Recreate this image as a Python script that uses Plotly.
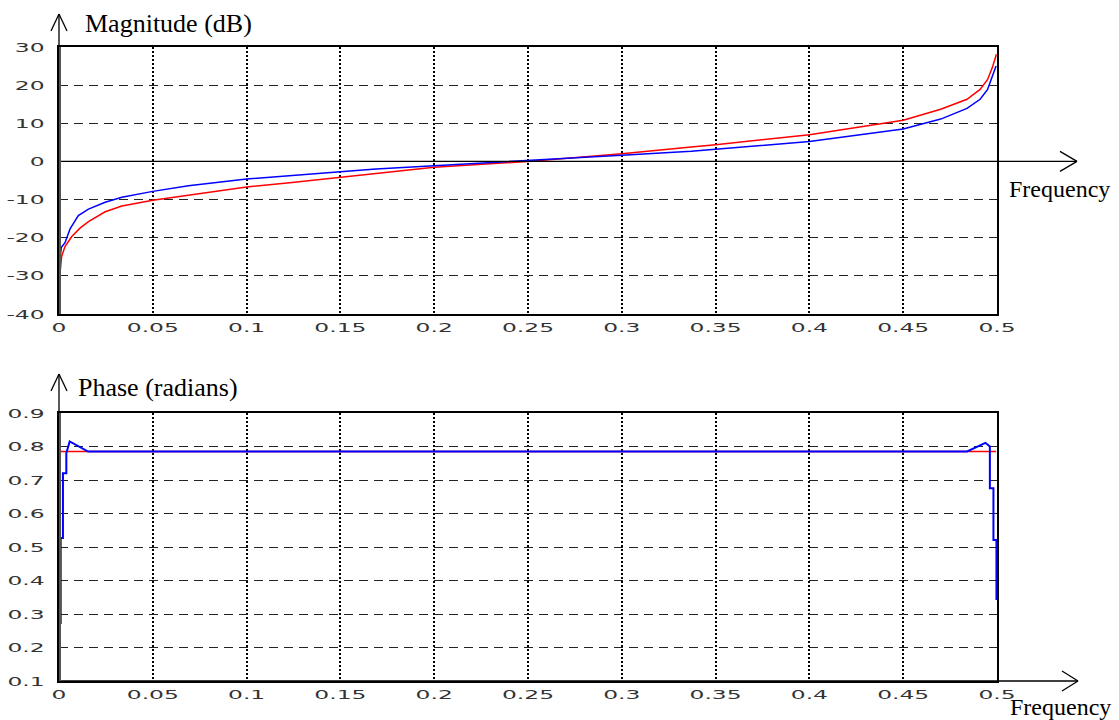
import plotly.graph_objects as go

# ---------------- data ----------------
mag_blue_f = [0.0005, 0.0012, 0.0032, 0.0059, 0.0103, 0.0157, 0.0246, 0.0335, 0.05, 0.069,
              0.1, 0.123, 0.15, 0.169, 0.2, 0.25, 0.3, 0.337, 0.35, 0.4, 0.45, 0.47,
              0.484, 0.491, 0.495, 0.4975, 0.4995]
mag_blue_db = [-25.8, -22.6, -21.3, -17.7, -14.2, -12.5, -10.7, -9.4, -7.85, -6.4,
               -4.6, -3.8, -2.7, -2.0, -1.15, 0.1, 1.65, 2.7, 3.2, 5.2, 8.5, 11.1,
               13.9, 16.3, 18.9, 22.4, 25.0]

mag_red_f = [0.0003, 0.0014, 0.0032, 0.0068, 0.0112, 0.0157, 0.0246, 0.0335, 0.05, 0.069,
             0.1, 0.123, 0.15, 0.169, 0.2, 0.25, 0.3, 0.337, 0.35, 0.4, 0.45, 0.47,
             0.484, 0.491, 0.495, 0.4975, 0.4997]
mag_red_db = [-30.6, -24.9, -22.3, -19.7, -17.5, -15.8, -13.2, -11.7, -10.2, -8.9,
              -6.7, -5.6, -4.2, -3.3, -1.5, 0.0, 2.0, 3.8, 4.4, 7.0, 10.8, 13.7,
              16.3, 18.9, 21.5, 24.6, 28.1]

ph_red_f = [0.0, 0.25, 0.4995]
ph_red = [0.785, 0.785, 0.785]

ph_blue_f = [0.0009, 0.0009, 0.0021, 0.0021, 0.0039, 0.0039, 0.0057, 0.0155, 0.1, 0.25,
             0.4, 0.4841, 0.4938, 0.4962, 0.4962, 0.4981, 0.4981, 0.4997, 0.4997]
ph_blue = [0.27, 0.527, 0.527, 0.72, 0.72, 0.78, 0.815, 0.785, 0.785, 0.785,
           0.785, 0.785, 0.811, 0.80, 0.675, 0.675, 0.521, 0.521, 0.342]

x_ticks = [0, 0.05, 0.1, 0.15, 0.2, 0.25, 0.3, 0.35, 0.4, 0.45, 0.5]
x_labels = ["0", "0.05", "0.1", "0.15", "0.2", "0.25", "0.3", "0.35", "0.4", "0.45", "0.5"]
mag_ticks = [-40, -30, -20, -10, 0, 10, 20, 30]
mag_labels = ["-40", "-30", "-20", "-10", "0", "10", "20", "30"]
ph_ticks = [0.1, 0.2, 0.3, 0.4, 0.5, 0.6, 0.7, 0.8, 0.9]
ph_labels = ["0.1", "0.2", "0.3", "0.4", "0.5", "0.6", "0.7", "0.8", "0.9"]

# ---------------- layout geometry (pixels) ----------------
W, H = 1119, 720
XL, XR = 59, 997
YT1, YB1 = 47, 314
YT2, YB2 = 413, 681


def px(x):
    return x / W


def py(y):
    return 1 - y / H


fig = go.Figure()

fig.add_trace(go.Scatter(x=mag_red_f, y=mag_red_db, mode="lines",
                         line=dict(color="#ff0000", width=1.5), xaxis="x", yaxis="y",
                         showlegend=False, hoverinfo="skip"))
fig.add_trace(go.Scatter(x=mag_blue_f, y=mag_blue_db, mode="lines",
                         line=dict(color="#0000ff", width=1.5), xaxis="x", yaxis="y",
                         showlegend=False, hoverinfo="skip"))
fig.add_trace(go.Scatter(x=ph_red_f, y=ph_red, mode="lines",
                         line=dict(color="#ff0000", width=1.5), xaxis="x2", yaxis="y2",
                         showlegend=False, hoverinfo="skip"))
fig.add_trace(go.Scatter(x=ph_blue_f, y=ph_blue, mode="lines",
                         line=dict(color="#0000ff", width=2), xaxis="x2", yaxis="y2",
                         showlegend=False, hoverinfo="skip"))

tickfont = dict(family="DejaVu Sans", size=13, color="#333333")

xcommon = dict(range=[0, 0.5], tickvals=x_ticks, ticktext=x_labels, showgrid=True,
               gridcolor="#000000", gridwidth=1.5, griddash="2px,2px", zeroline=False,
               showline=True, linecolor="#000000", linewidth=1.5, mirror=True, ticks="",
               tickfont=tickfont, ticklabelstandoff=1, domain=[px(XL), px(XR)],
               automargin=False)
ycommon = dict(showgrid=True, gridcolor="#222222", gridwidth=1, griddash="9px,6px",
               zeroline=False, showline=True, linecolor="#000000", linewidth=1.5,
               mirror=True, ticks="", tickfont=tickfont, ticklabelstandoff=10,
               automargin=False)

fig.update_layout(
    width=W, height=H,
    autosize=False,
    margin=dict(l=0, r=0, t=0, b=0, pad=0),
    paper_bgcolor="white", plot_bgcolor="white",
    showlegend=False,
    xaxis=dict(anchor="y", **xcommon),
    yaxis=dict(anchor="x", range=[-40, 30], tickvals=mag_ticks, ticktext=mag_labels,
               domain=[py(YB1), py(YT1)], **ycommon),
    xaxis2=dict(anchor="y2", **xcommon),
    yaxis2=dict(anchor="x2", range=[0.1, 0.9], tickvals=ph_ticks, ticktext=ph_labels,
                domain=[py(YB2), py(YT2)], **ycommon),
)

# ---------------- arrows (axis decorations) ----------------
yzero = YB1 - (0 - (-40)) / 70 * (YB1 - YT1)
lk = dict(color="#000000", width=1.3)
shapes = []


def seg(x0, y0, x1, y1, line=lk):
    shapes.append(dict(type="line", xref="paper", yref="paper",
                       x0=px(x0), y0=py(y0), x1=px(x1), y1=py(y1), line=line))


# horizontal arrow (top, along 0 dB)
seg(XL, yzero, 1077, yzero)
seg(1060, yzero - 10, 1077, yzero)
seg(1060, yzero + 10, 1077, yzero)
# horizontal arrow (bottom)
seg(XL, YB2, 1078, YB2)
seg(1062, YB2 - 10, 1078, YB2)
seg(1062, YB2 + 10, 1078, YB2)
# vertical arrows
seg(XL, YB1, XL, 14)
seg(51, 31, XL, 14)
seg(67, 31, XL, 14)
seg(XL, YB2, XL, 374)
seg(51, 391, XL, 374)
seg(67, 391, XL, 374)
# thicker left frame edges
seg(XL + 1, YB1, XL + 1, YT1, dict(color="#555555", width=2))
seg(XL + 1, YB2, XL + 1, YT2, dict(color="#555555", width=2))

fig.update_layout(shapes=shapes)

afont = dict(family="Liberation Serif", size=26, color="#000000")
ffont = dict(family="Liberation Serif", size=24, color="#000000")
fig.add_annotation(text="Magnitude (dB)", xref="paper", yref="paper", x=px(83), y=py(23),
                   xanchor="left", yanchor="middle", showarrow=False, font=afont)
fig.add_annotation(text="Phase (radians)", xref="paper", yref="paper", x=px(76), y=py(387),
                   xanchor="left", yanchor="middle", showarrow=False, font=afont)
fig.add_annotation(text="Frequency", xref="paper", yref="paper", x=px(1007), y=py(189),
                   xanchor="left", yanchor="middle", showarrow=False, font=ffont)
fig.add_annotation(text="Frequency", xref="paper", yref="paper", x=px(1008), y=py(707),
                   xanchor="left", yanchor="middle", showarrow=False, font=ffont)

post = """
document.documentElement.style.margin='0';
document.body.style.margin='0';
var gd = document.getElementById('{plot_id}');
gd.querySelectorAll('.xtick text, .ytick text, .x2tick text, .y2tick text').forEach(function(t){
  var w = t.getComputedTextLength();
  t.setAttribute('textLength', (w*1.8).toFixed(1));
  t.setAttribute('lengthAdjust', 'spacingAndGlyphs');
});
"""

fig.write_html("out.html", post_script=post, config={"responsive": False})
